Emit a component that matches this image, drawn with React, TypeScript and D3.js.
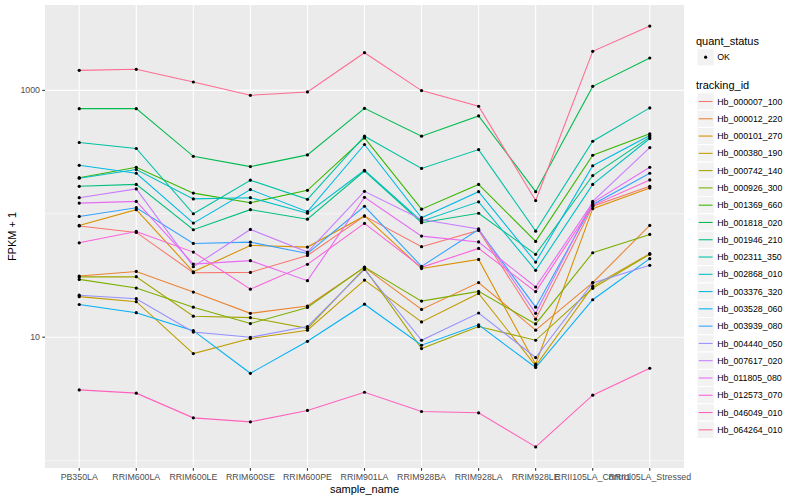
import React, { useEffect, useRef } from 'react';
import * as d3 from 'd3';

const samples = [
  'PB350LA', 'RRIM600LA', 'RRIM600LE', 'RRIM600SE', 'RRIM600PE', 'RRIM901LA',
  'RRIM928BA', 'RRIM928LA', 'RRIM928LE', 'RRII105LA_Control', 'RRII105LA_Stressed',
];

const trackingIds = [
  'Hb_000007_100', 'Hb_000012_220', 'Hb_000101_270', 'Hb_000380_190', 'Hb_000742_140',
  'Hb_000926_300', 'Hb_001369_660', 'Hb_001818_020', 'Hb_001946_210', 'Hb_002311_350',
  'Hb_002868_010', 'Hb_003376_320', 'Hb_003528_060', 'Hb_003939_080', 'Hb_004440_050',
  'Hb_007617_020', 'Hb_011805_080', 'Hb_012573_070', 'Hb_046049_010', 'Hb_064264_010',
];

// ggplot hue palette for 20 levels
const colors = [
  '#F8766D', '#EA8331', '#D89000', '#C09B00', '#A3A500', '#7CAE00', '#39B600', '#00BB4E',
  '#00BF7D', '#00C1A3', '#00BFC4', '#00BAE0', '#00B0F6', '#35A2FF', '#9590FF', '#C77CFF',
  '#E76BF3', '#FA62DB', '#FF62BC', '#FF6C91',
];

// FPKM + 1, one value per sample
const hb000007 = [79.6, 70.6, 33.3, 33.5, 46.0, 95.7, 54.1, 73.3, 14.0, 115, 167];
const hb000012 = [31.3, 34.1, 23.2, 15.6, 17.9, 36.8, 16.8, 27.7, 11.4, 27.7, 80.4];
const hb000101 = [80.5, 108, 33.9, 55.4, 53.7, 96, 36, 42.7, 6.04, 110, 162];
const hb000380 = [21.3, 19.4, 7.37, 9.74, 11.4, 29.0, 13.3, 22.6, 5.87, 25.8, 47.5];
const hb000742 = [30.8, 30.9, 14.8, 14.4, 11.8, 36.1, 8.09, 12.2, 9.44, 24.9, 46.9];
const hb000926 = [29.4, 25.0, 17.5, 12.9, 17.4, 37, 19.6, 23.5, 12.8, 48.3, 68.0];
const hb001369 = [196, 238, 147, 123, 155, 412, 109, 173, 59.7, 298, 444];
const hb001818 = [711, 711, 292, 241, 300, 715, 425, 621, 151, 1077, 1829];
const hb001946 = [167, 173, 74.2, 108, 90.4, 222, 84.6, 101, 46.9, 204, 418];
const hb002311 = [378, 338, 100, 187, 131, 425, 233, 331, 72.3, 387, 721];
const hb002868 = [194, 228, 132, 135, 101, 225, 87.1, 125, 34.8, 173, 407];
const hb003376 = [247, 213, 84.0, 157, 104, 364, 92.9, 151, 40.6, 245, 430];
const hb003528 = [18.4, 15.8, 11.3, 5.10, 9.26, 18.5, 8.60, 12.6, 5.68, 20.1, 43.3];
const hb003939 = [95.1, 112, 57.5, 58.9, 47.7, 115, 37.5, 74.6, 17.5, 119, 213];
const hb004440 = [21.9, 20.5, 11.0, 9.98, 12.2, 35.4, 9.44, 15.7, 6.84, 27.5, 38.2];
const hb007617 = [135, 159, 37.3, 74.6, 48.9, 152, 89.9, 75.3, 15.6, 126, 344];
const hb011805 = [122, 126, 39.1, 41.7, 28.7, 136, 65.9, 59.1, 25.5, 123, 238];
const hb012573 = [58.2, 71.9, 48.9, 24.5, 38.9, 83.5, 36.8, 52.4, 23.4, 117, 188];
const hb046049 = [3.74, 3.52, 2.22, 2.06, 2.55, 3.58, 2.50, 2.44, 1.29, 3.39, 5.60];
const hb064264 = [1452, 1480, 1169, 912, 971, 2018, 995, 743, 128, 2070, 3319];

const seriesValues = [
  hb000007, hb000012, hb000101, hb000380, hb000742, hb000926, hb001369, hb001818, hb001946, hb002311,
  hb002868, hb003376, hb003528, hb003939, hb004440, hb007617, hb011805, hb012573, hb046049, hb064264,
];

const yMajorTicks = [10, 1000];
const yMinorTicks = [1, 100, 10000];

const App: React.FC = () => {
  const ref = useRef<SVGSVGElement | null>(null);

  useEffect(() => {
    const svg = d3.select(ref.current);
    const width = 800;
    const height = 500;
    const margin = { top: 5, right: 116, bottom: 32, left: 45 };
    const font = '"Liberation Sans", Arial, sans-serif';

    svg.selectAll('*').remove();
    svg.attr('width', width).attr('height', height).style('font-family', font);

    svg.append('rect').attr('width', width).attr('height', height).attr('fill', 'white');

    const series = trackingIds.map((id, i) => ({ id, color: colors[i], values: seriesValues[i] }));

    const x = d3
      .scalePoint<string>()
      .domain(samples)
      .range([margin.left, width - margin.right])
      .padding(0.6);

    const all = seriesValues.flat();
    const lo = Math.log10(d3.min(all) as number);
    const hi = Math.log10(d3.max(all) as number);
    const pad = (hi - lo) * 0.05;
    const y = d3
      .scaleLog()
      .domain([10 ** (lo - pad), 10 ** (hi + pad)])
      .range([height - margin.bottom, margin.top]);

    const [y0, y1] = y.domain();

    // panel
    svg
      .append('rect')
      .attr('x', margin.left)
      .attr('y', margin.top)
      .attr('width', width - margin.right - margin.left)
      .attr('height', height - margin.bottom - margin.top)
      .attr('fill', '#EBEBEB');

    const grid = svg.append('g');
    grid
      .selectAll('line.minor')
      .data(yMinorTicks.filter(t => t >= y0 && t <= y1))
      .join('line')
      .attr('x1', margin.left)
      .attr('x2', width - margin.right)
      .attr('y1', d => y(d))
      .attr('y2', d => y(d))
      .attr('stroke', 'white')
      .attr('stroke-width', 0.53);
    grid
      .selectAll('line.major')
      .data(yMajorTicks)
      .join('line')
      .attr('x1', margin.left)
      .attr('x2', width - margin.right)
      .attr('y1', d => y(d))
      .attr('y2', d => y(d))
      .attr('stroke', 'white')
      .attr('stroke-width', 1.07);
    grid
      .selectAll('line.vx')
      .data(samples)
      .join('line')
      .attr('x1', d => x(d) as number)
      .attr('x2', d => x(d) as number)
      .attr('y1', margin.top)
      .attr('y2', height - margin.bottom)
      .attr('stroke', 'white')
      .attr('stroke-width', 1.07);

    // lines
    const line = d3
      .line<number>()
      .x((_, i) => x(samples[i]) as number)
      .y(d => y(d));

    svg
      .append('g')
      .selectAll('path')
      .data(series)
      .join('path')
      .attr('d', d => line(d.values))
      .attr('fill', 'none')
      .attr('stroke', d => d.color)
      .attr('stroke-width', 1.07);

    // points
    const pts = series.flatMap(s => s.values.map((v, i) => ({ sample: samples[i], v })));
    svg
      .append('g')
      .selectAll('circle')
      .data(pts)
      .join('circle')
      .attr('cx', d => x(d.sample) as number)
      .attr('cy', d => y(d.v))
      .attr('r', 1.6)
      .attr('fill', 'black');

    // axes
    const xAxis = svg.append('g');
    xAxis
      .selectAll('line')
      .data(samples)
      .join('line')
      .attr('x1', d => x(d) as number)
      .attr('x2', d => x(d) as number)
      .attr('y1', height - margin.bottom)
      .attr('y2', height - margin.bottom + 2.75)
      .attr('stroke', '#333333')
      .attr('stroke-width', 1.07);
    xAxis
      .selectAll('text')
      .data(samples)
      .join('text')
      .attr('x', d => x(d) as number)
      .attr('y', height - margin.bottom + 12)
      .attr('text-anchor', 'middle')
      .attr('font-size', 8.8)
      .attr('fill', '#4D4D4D')
      .text(d => d);

    const yAxis = svg.append('g');
    yAxis
      .selectAll('line')
      .data(yMajorTicks)
      .join('line')
      .attr('x1', margin.left - 2.75)
      .attr('x2', margin.left)
      .attr('y1', d => y(d))
      .attr('y2', d => y(d))
      .attr('stroke', '#333333')
      .attr('stroke-width', 1.07);
    yAxis
      .selectAll('text')
      .data(yMajorTicks)
      .join('text')
      .attr('x', margin.left - 5)
      .attr('y', d => y(d))
      .attr('dy', '0.35em')
      .attr('text-anchor', 'end')
      .attr('font-size', 8.8)
      .attr('fill', '#4D4D4D')
      .text(d => String(d));

    svg
      .append('text')
      .attr('x', (margin.left + width - margin.right) / 2)
      .attr('y', 493)
      .attr('text-anchor', 'middle')
      .attr('font-size', 11)
      .text('sample_name');

    svg
      .append('text')
      .attr('transform', `translate(16,${(margin.top + height - margin.bottom) / 2}) rotate(-90)`)
      .attr('text-anchor', 'middle')
      .attr('font-size', 11)
      .text('FPKM + 1');

    // legends
    const lx = 696;
    const keySize = 17.28;
    const legend = svg.append('g');

    legend
      .append('text')
      .attr('x', lx)
      .attr('y', 44.5)
      .attr('font-size', 11)
      .text('quant_status');
    legend
      .append('rect')
      .attr('x', lx + 1)
      .attr('y', 57.2 - keySize / 2)
      .attr('width', keySize)
      .attr('height', keySize)
      .attr('fill', '#F2F2F2')
      .attr('stroke', 'white');
    legend
      .append('circle')
      .attr('cx', lx + 1 + keySize / 2)
      .attr('cy', 57.2)
      .attr('r', 1.6)
      .attr('fill', 'black');
    legend
      .append('text')
      .attr('x', lx + 1 + keySize + 3)
      .attr('y', 57.2)
      .attr('dy', '0.35em')
      .attr('font-size', 8.8)
      .text('OK');

    legend
      .append('text')
      .attr('x', lx)
      .attr('y', 89)
      .attr('font-size', 11)
      .text('tracking_id');

    const keys = legend
      .selectAll('g.key')
      .data(series)
      .join('g')
      .attr('transform', (_, i) => `translate(${lx + 1},${101.5 + i * keySize})`);
    keys
      .append('rect')
      .attr('y', -keySize / 2)
      .attr('width', keySize)
      .attr('height', keySize)
      .attr('fill', '#F2F2F2')
      .attr('stroke', 'white');
    keys
      .append('line')
      .attr('x1', 1.7)
      .attr('x2', keySize - 1.7)
      .attr('stroke', d => d.color)
      .attr('stroke-width', 1.07);
    keys
      .append('text')
      .attr('x', keySize + 3)
      .attr('dy', '0.35em')
      .attr('font-size', 8.8)
      .text(d => d.id);
  }, []);

  return (
    <div style={{ position: 'absolute', left: 0, top: 0 }}>
      <svg ref={ref}></svg>
    </div>
  );
};

export default App;
